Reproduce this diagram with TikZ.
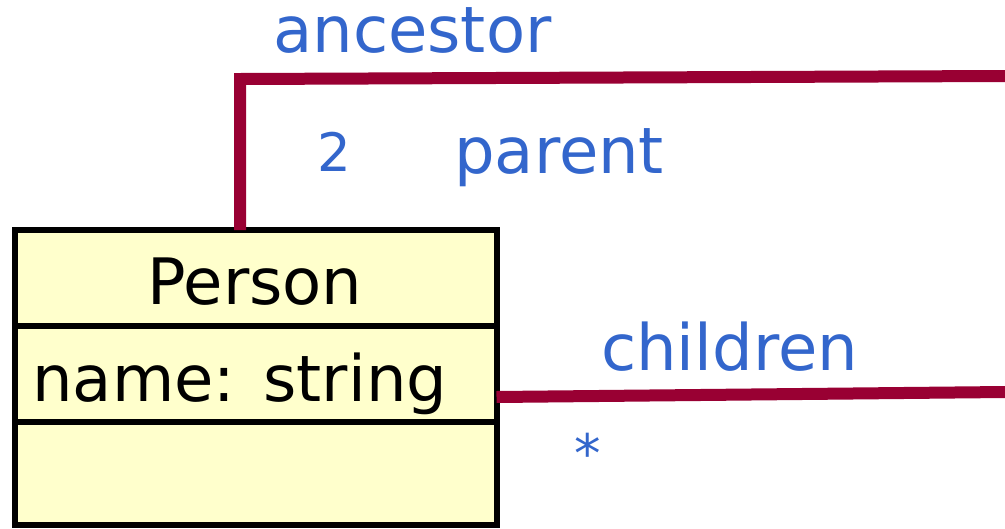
\documentclass[tikz,border=0pt]{standalone}
\usepackage{fontspec}
\setmainfont{DejaVu Sans}
\definecolor{assoc}{HTML}{990033}
\definecolor{lbl}{HTML}{3366CC}
\definecolor{classfill}{HTML}{FFFFCC}
\tikzset{
  classbox/.style={draw=black, line width=6pt, fill=classfill, inner sep=0pt, outer sep=0pt,
    minimum width=482pt, minimum height=295pt},
  divider/.style={draw=black, line width=6pt},
  assocline/.style={draw=assoc, line width=12pt, line join=miter},
  rolelabel/.style={text=lbl, inner sep=0pt, anchor=base west, font=\fontsize{64}{72}\selectfont},
  multlabel/.style={text=lbl, inner sep=0pt, anchor=base west, font=\fontsize{53}{60}\selectfont},
  classtext/.style={text=black, inner sep=0pt, font=\fontsize{64}{72}\selectfont}
}
\begin{document}
\begin{tikzpicture}[x=1pt, y=-1pt]
\useasboundingbox (0,0) rectangle (1005,528);
% class box
\node[classbox] (person) at (255.5,377.5) {};
\coordinate (d1l) at (14.5,326);
\coordinate (d1r) at (496.5,326);
\coordinate (d2l) at (14.5,422);
\coordinate (d2r) at (496.5,422);
\draw[divider] (d1l) -- (d1r);
\draw[divider] (d2l) -- (d2r);
\node[classtext, anchor=base] (pname) at (255,304) {Person};
\node[classtext, anchor=base west] (pattr) at (32,401) {name:\hspace{8pt}\ string};
% associations
\coordinate (acorner) at (240,79);
\coordinate (aend) at (1005,76);
\draw[assocline] (person.north -| acorner) -- (acorner) -- (aend);
\coordinate (cend) at (1005,392);
\draw[assocline] (person.east |- 0,397) -- (cend);
% labels
\node[rolelabel] (ancestor) at (273,52) {ancestor};
\node[multlabel] (two) at (317,171) {2};
\node[rolelabel] (parent) at (454,173) {parent};
\node[rolelabel] (children) at (601,370) {children};
\node[multlabel] (many) at (574,472) {*};
\end{tikzpicture}
\end{document}
